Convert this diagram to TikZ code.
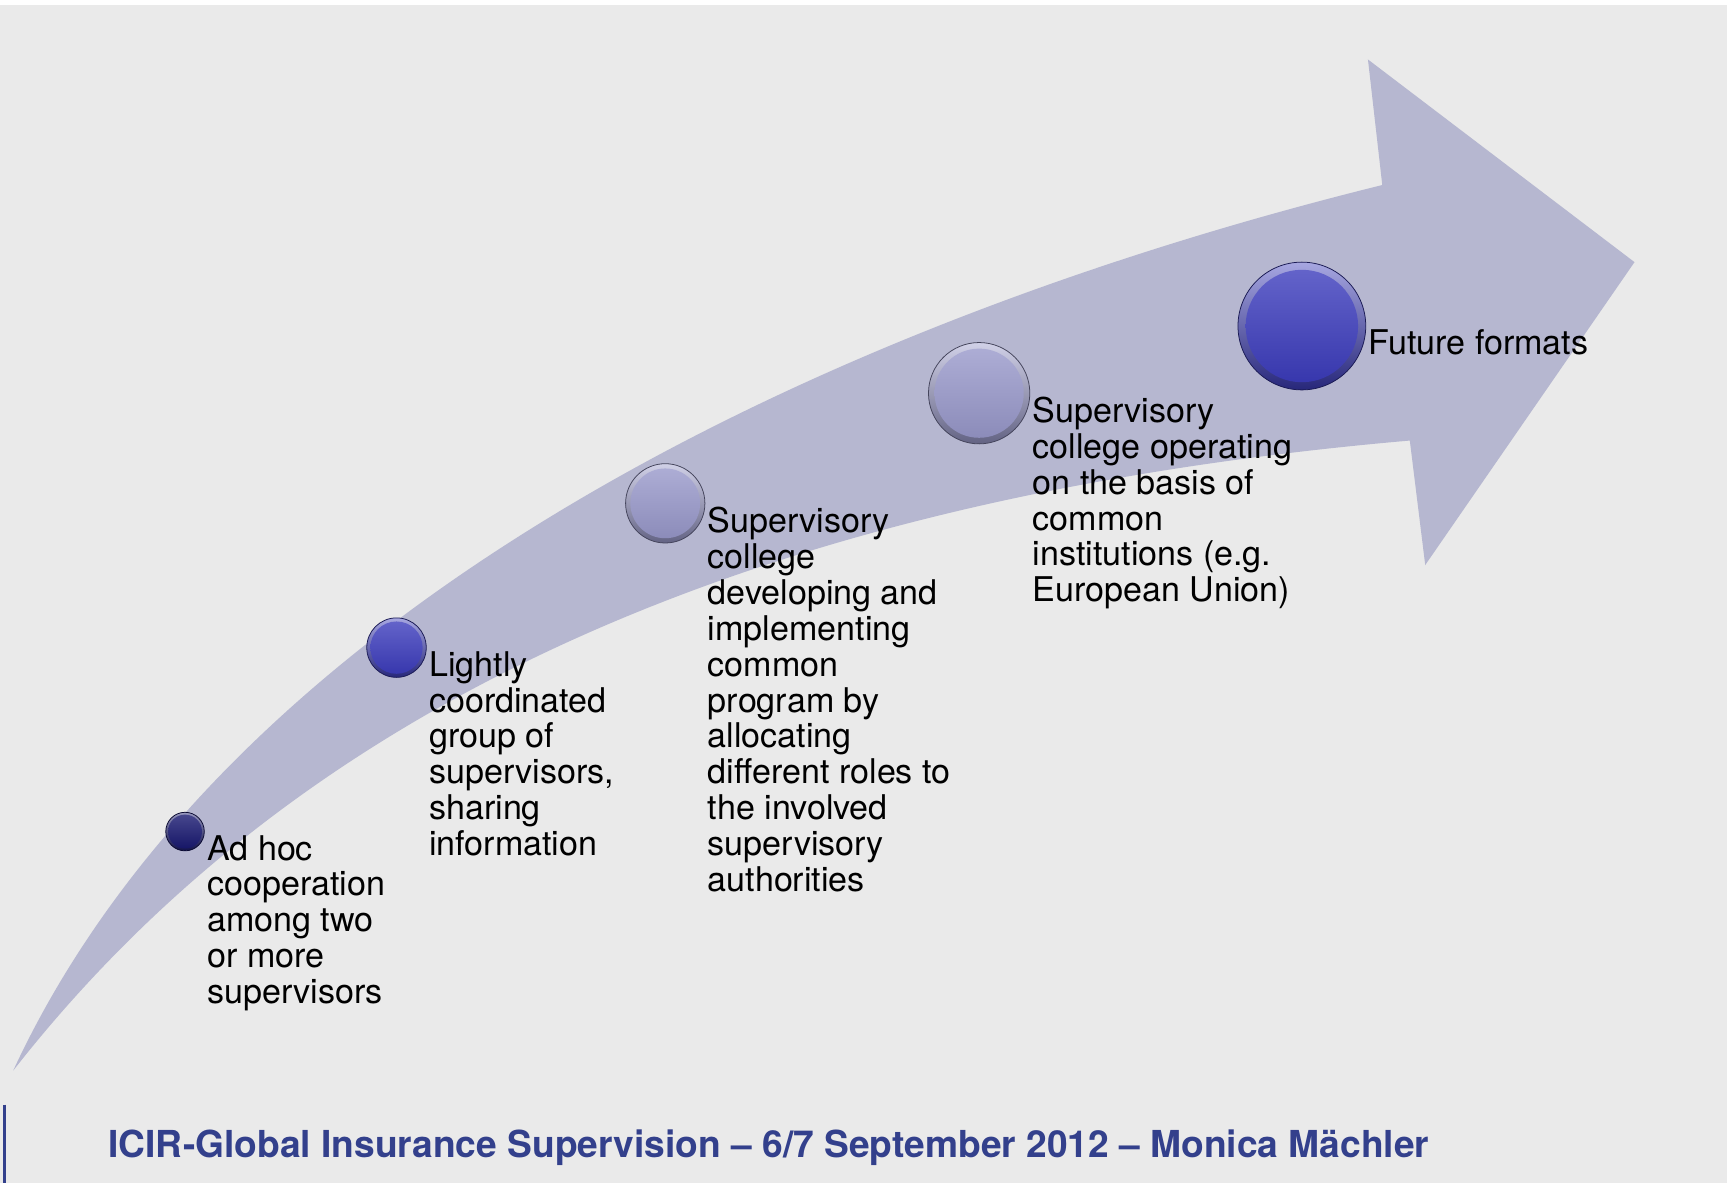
\documentclass[tikz,border=0pt]{standalone}
\usepackage{fontspec}
\setmainfont{TeX Gyre Heros}

\definecolor{slidegray}{RGB}{234,234,234}
\definecolor{bandlilac}{RGB}{182,183,208}
\definecolor{navyball}{RGB}{24,24,112}
\definecolor{blueball}{RGB}{60,60,188}
\definecolor{lilacball}{RGB}{152,152,202}
\definecolor{footerblue}{RGB}{51,64,140}

\begin{document}
\begin{tikzpicture}[x=0.2mm,y=-0.2mm,
  ball/.style={circle,inner sep=0pt,draw=#1!45!black,line width=0.4pt,
    top color=#1!45!white,bottom color=#1!65!black},
  stagetext/.style={anchor=north west,inner sep=0pt,align=left,
    font=\fontsize{17.6}{18.55}\selectfont}]
  \useasboundingbox (0,0) rectangle (1568,1074);
  \fill[white] (0,0) rectangle (1568,1074);
  \fill[slidegray] (0,4.5) rectangle (1568,1074);

  % the rising arrow
  \fill[bandlilac] (12,972) .. controls (201,564) and (721,300) .. (1255,168)
    -- (1242,54) -- (1484,238) -- (1294,513) -- (1280,400)
    .. controls (682,452) and (271,641) .. (12,972) -- cycle;

  % the five stages, growing along the arrow
  \foreach \n/\x/\y/\d/\c in {1/168/755/7.0/navyball, 2/360/588/10.8/blueball,
      3/604/457/14.4/lilacball, 4/889/357/18.4/lilacball, 5/1182/296/23.2/blueball}
  {
    \node[ball=\c,minimum size=\d mm] (c\n) at (\x,\y) {};
    \shade[top color=\c!80!white,bottom color=\c!92!black]
      (c\n.center) circle[radius=0.44*\d mm];
  }

  \node[stagetext] (t1) at ([shift={(2,3)}]c1.east)
    {Ad hoc\\cooperation\\among two\\or more\\supervisors};
  \node[stagetext] (t2) at ([shift={(2,3)}]c2.east)
    {Lightly\\coordinated\\group of\\supervisors,\\sharing\\information};
  \node[stagetext] (t3) at ([shift={(2,3)}]c3.east)
    {Supervisory\\college\\developing and\\implementing\\common\\program by\\allocating\\different roles to\\the involved\\supervisory\\authorities};
  \node[stagetext] (t4) at ([shift={(2,3)}]c4.east)
    {Supervisory\\college operating\\on the basis of\\common\\institutions (e.g.\\European Union)};
  \node[stagetext] (t5) at ([shift={(2,3)}]c5.east) {Future formats};

  % footer
  \draw[footerblue,line width=0.5mm] (4,1003) -- (4,1074);
  \node[anchor=base west,inner sep=0pt,text=footerblue,
    font=\bfseries\fontsize{19.2}{23}\selectfont] (footer) at (98,1051)
    {ICIR-Global Insurance Supervision – 6/7 September 2012 – Monica Mächler};
\end{tikzpicture}
\end{document}
